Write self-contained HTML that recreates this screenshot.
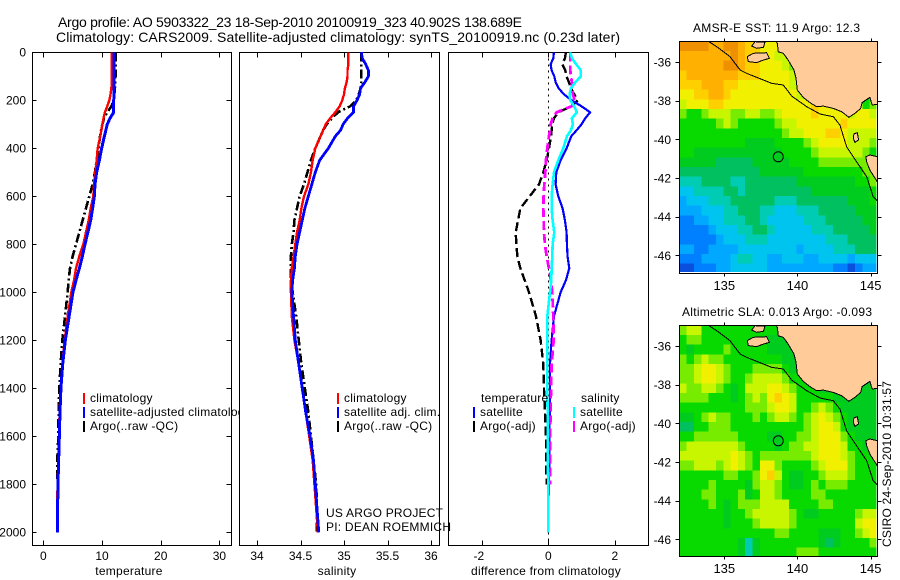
<!DOCTYPE html>
<html>
<head>
<meta charset="utf-8">
<title>Argo profile</title>
<style>
html,body{margin:0;padding:0;background:#fff;}
svg{display:block;}
text{font-family:"Liberation Sans",sans-serif;font-size:12px;fill:#000;}
.title{font-size:14px;}
.crisp{shape-rendering:crispEdges;}
.spaced{letter-spacing:0.25px;}
.maplabel{font-size:13px;}
</style>
</head>
<body>
<svg id="chart" width="900" height="580" viewBox="0 0 900 580" xmlns="http://www.w3.org/2000/svg">
<text class="title" x="58" y="27" textLength="464" lengthAdjust="spacing">Argo profile: AO 5903322_23 18-Sep-2010 20100919_323 40.902S 138.689E</text>
<text class="title" x="56" y="42" textLength="564" lengthAdjust="spacing">Climatology: CARS2009. Satellite-adjusted climatology: synTS_20100919.nc (0.23d later)</text>
<text x="693" y="32" textLength="167" lengthAdjust="spacing">AMSR-E SST: 11.9 Argo: 12.3</text>
<text x="682" y="316" textLength="190" lengthAdjust="spacing">Altimetric SLA: 0.013 Argo: -0.093</text>
<text transform="translate(891,547) rotate(-90)" textLength="166" lengthAdjust="spacing">CSIRO 24-Sep-2010 10:31:57</text>
<text x="326" y="517" textLength="117" lengthAdjust="spacing">US ARGO PROJECT</text>
<text x="326" y="531" textLength="125" lengthAdjust="spacing">PI: DEAN ROEMMICH</text>
</svg>
<script>
// ---------- profile data ----------
const depths = [0,25,50,75,100,125,150,175,200,225,250,275,300,325,350,400,450,500,550,600,650,700,750,800,850,900,950,1000,1100,1200,1300,1400,1500,1600,1700,1800,1900,2000];
const tempClim = [11.65,11.65,11.65,11.65,11.65,11.65,11.6,11.45,11.25,10.9,10.5,10.25,10.06,9.9,9.7,9.26,9.09,8.86,8.64,8.52,8.07,7.73,7.27,6.82,6.14,5.57,5.23,4.77,4.15,3.64,3.24,2.95,2.78,2.67,2.56,2.44,2.33,2.33];
const tempSat = [12.05,12.05,12.05,12.05,12.05,12.05,12.05,12.02,12,12,12,11.36,10.9,10.65,10.4,9.94,9.55,9.09,8.8,8.7,8.4,8.07,7.6,7.1,6.65,6.14,5.57,5.05,4.4,3.75,3.3,3,2.84,2.73,2.61,2.5,2.44,2.39];
const tempArgo = [12.3,12.3,12.3,12.3,12.3,12.25,12.2,12.1,12,11.6,10.9,10.34,10.06,9.85,9.66,9.43,9.09,8.8,8.4,7.84,7.27,6.7,6.14,5.57,5,4.55,4.32,4.15,3.7,3.24,2.95,2.73,2.61,2.56,2.39,2.44,2.44,2.44];
const salClim = [35.05,35.05,35.05,35.04,35.04,35.03,35.01,35,34.98,34.95,34.9,34.84,34.79,34.76,34.73,34.67,34.64,34.62,34.59,34.54,34.51,34.49,34.46,34.44,34.42,34.4,34.39,34.39,34.4,34.43,34.48,34.52,34.56,34.6,34.64,34.66,34.68,34.7];
const salSat = [35.2,35.21,35.25,35.28,35.28,35.24,35.19,35.18,35.15,35.11,35.11,35.04,34.99,34.96,34.9,34.82,34.72,34.67,34.63,34.59,34.55,34.52,34.49,34.46,34.44,34.43,34.41,34.4,34.42,34.44,34.48,34.52,34.56,34.61,34.65,34.67,34.69,34.71];
const salArgo = [35.2,35.2,35.2,35.2,35.2,35.2,35.19,35.17,35.14,35.07,34.93,34.86,34.8,34.76,34.73,34.67,34.62,34.58,34.54,34.49,34.46,34.43,34.42,34.4,34.39,34.39,34.39,34.41,34.45,34.48,34.51,34.55,34.59,34.62,34.65,34.68,34.69,34.69];
const diffTempSat = [0.17,0.15,0.07,0.1,0.18,0.22,0.31,0.47,0.7,1,1.26,1.11,1,0.85,0.69,0.55,0.37,0.24,0.22,0.3,0.43,0.5,0.55,0.56,0.58,0.63,0.53,0.37,0.17,0.1,0.05,0.05,0.05,0.03,0.03,0.02,0,0];
const diffSalSat = [0.66,0.71,0.84,0.98,0.98,0.81,0.68,0.64,0.66,0.78,0.86,0.71,0.74,0.68,0.56,0.45,0.3,0.17,0.13,0.1,0.1,0.13,0.18,0.13,0.12,0.1,0.09,0.05,-0.03,-0.03,-0.03,-0.03,-0.02,-0.02,-0.02,0,0,0];
const diffTempArgo = [0.53,0.5,0.42,0.51,0.55,0.62,0.68,0.78,0.88,0.7,0.3,0.17,0.12,0.1,0.08,0.02,-0.05,-0.15,-0.28,-0.56,-0.84,-0.91,-0.98,-0.96,-0.93,-0.84,-0.71,-0.58,-0.37,-0.23,-0.15,-0.13,-0.1,-0.07,-0.07,-0.05];
const diffSalArgo = [0.66,0.66,0.66,0.66,0.68,0.71,0.71,0.74,0.79,0.7,0.25,0.13,0.07,0.05,0.02,-0.03,-0.07,-0.09,-0.12,-0.14,-0.15,-0.14,-0.13,-0.1,-0.05,0.02,0.08,0.12,0.15,0.16,0.1,0.08,0.07,0.05,0.05,0.05];
const depthTicks = [0,200,400,600,800,1000,1200,1400,1600,1800,2000];
const tempTicks = [0,10,20,30];
const salTicks = [34,34.5,35,35.5,36];
const diffTicks = [-2,0,2];
// ---------- map data ----------
const lonTicks = [135,140,145];
const latTicks = [-36,-38,-40,-42,-44,-46];
const argoLon = 138.689;
const argoLat = -40.902;
const levelColors = ['#0a50dc','#0080ff','#00a8ff','#00c4f0','#00ccb4','#00c060','#00cc20','#08da00','#78ec00','#c8f600','#f0f000','#ffd000','#ffb000','#ee9000'];
const sstGrid = [
[13,13,13,13,12,12,13,13,12,11,11,10,10,10,10,10,10,10,10,10,10,10,10,10,10,10,10],
[12,12,12,12,12,12,12,13,12,11,11,10,10,9,9,8,8,8,8,8,8,8,8,8,8,8,8],
[12,12,12,12,12,12,13,13,12,11,11,10,10,10,9,8,8,8,8,8,8,8,8,8,8,8,8],
[11,12,12,12,12,12,12,12,11,11,11,10,10,10,10,9,8,8,8,8,8,8,8,8,8,8,8],
[11,11,11,12,12,12,11,11,10,10,10,10,10,10,10,9,8,8,8,8,8,8,8,8,8,8,8],
[10,10,11,11,12,12,11,10,10,10,10,10,10,10,10,10,9,9,8,8,8,8,8,8,8,7,8],
[9,10,10,10,11,11,10,10,10,10,10,10,10,10,10,10,10,10,11,10,10,10,10,10,10,7,8],
[8,7,7,8,9,9,9,8,8,9,9,8,8,9,10,10,10,10,11,10,10,10,10,9,10,10,9],
[7,7,7,7,7,8,9,8,7,7,7,7,7,8,9,9,10,10,10,10,10,10,11,10,10,10,10],
[7,7,7,7,7,7,7,7,7,7,7,7,7,7,8,9,9,10,10,10,11,11,10,9,9,9,9],
[7,7,7,7,7,7,7,7,7,6,6,6,6,7,7,7,7,8,9,10,10,10,10,9,9,9,8],
[7,7,6,6,6,6,6,6,6,6,6,6,6,6,7,7,7,7,8,9,9,9,9,9,9,8,7],
[6,6,6,6,6,5,5,5,5,5,6,6,6,6,6,7,7,7,7,8,8,8,8,8,8,8,8],
[5,5,5,5,5,5,5,5,5,5,5,6,6,6,6,6,6,7,7,7,7,7,7,7,7,8,8],
[4,4,4,5,5,5,5,4,4,5,5,5,5,5,5,5,6,6,6,6,6,6,6,6,7,7,8],
[3,3,4,4,4,4,5,5,4,5,5,5,5,5,5,5,5,5,6,6,6,6,6,6,6,6,7],
[2,3,3,3,4,4,4,5,5,5,5,5,5,4,4,4,5,5,5,5,5,5,5,6,6,6,7],
[2,2,2,3,3,3,4,4,5,5,5,4,4,3,3,3,4,4,4,5,5,5,5,5,6,6,6],
[1,1,2,2,3,3,4,4,4,5,5,4,3,3,3,3,3,4,4,4,5,5,5,5,5,6,6],
[1,1,1,1,2,3,3,3,4,4,5,5,4,3,3,3,3,3,4,4,4,5,5,5,5,5,6],
[1,1,1,1,1,2,3,3,3,4,4,4,3,3,3,3,3,3,3,3,4,4,4,5,5,5,5],
[2,2,1,1,2,2,2,2,3,3,3,3,3,3,3,3,2,3,3,3,3,4,4,4,5,5,5],
[1,1,1,2,2,2,2,3,4,4,3,3,2,2,3,3,3,2,2,3,3,3,3,2,3,3,3],
[0,0,1,1,1,2,2,3,3,3,3,3,2,2,2,2,2,2,2,2,2,1,1,0,1,2,2]
];
const slaGrid = [
[8,9,9,7,7,7,7,7,7,7,7,7,7,7,6,6,6,6,6,6,6,6,6,6,6,6,6],
[7,8,8,7,7,7,7,7,7,7,7,7,6,6,6,6,6,6,6,6,6,6,6,6,6,6,6],
[7,6,7,7,7,7,8,7,7,7,7,7,6,6,6,6,6,6,6,6,6,6,6,6,6,6,6],
[8,7,8,9,8,8,7,7,7,7,7,7,7,7,6,6,6,6,6,6,6,6,6,6,6,6,6],
[8,8,9,10,10,9,8,7,7,7,8,8,8,8,7,6,6,6,6,6,6,6,6,6,6,6,6],
[8,8,9,10,10,9,8,7,7,8,9,9,9,9,8,7,7,6,6,6,6,6,6,6,6,6,6],
[9,8,8,9,9,8,7,6,7,9,9,9,10,10,9,8,7,7,7,6,6,6,6,6,6,6,6],
[8,8,8,8,7,7,7,6,7,8,9,8,10,11,10,9,7,7,7,7,7,6,6,6,6,6,6],
[7,7,7,7,7,7,7,7,7,8,8,8,9,10,10,9,7,7,8,9,8,7,6,6,6,6,6],
[6,6,7,8,9,8,8,7,7,7,8,7,8,9,9,8,7,8,9,10,9,8,7,6,6,6,6],
[5,5,7,7,8,8,8,7,7,7,7,7,7,7,7,7,7,8,9,10,10,9,7,6,6,6,6],
[7,7,8,8,8,8,8,8,7,7,7,7,6,6,7,7,8,8,9,10,10,10,8,7,6,6,6],
[8,9,9,9,9,9,9,9,8,7,7,7,7,6,7,8,8,9,9,10,10,10,9,7,7,6,6],
[9,9,9,9,9,9,9,10,9,8,7,8,8,8,8,8,8,8,9,10,10,10,9,8,7,7,7],
[8,8,9,9,9,8,9,10,9,8,7,10,10,8,7,7,7,7,8,9,10,10,10,8,7,7,7],
[7,7,7,7,7,7,8,8,7,7,8,10,11,9,7,6,6,7,7,8,9,9,9,8,7,7,7],
[7,7,7,7,8,7,7,7,7,6,8,9,9,8,7,6,6,7,8,7,8,8,8,7,7,7,7],
[7,7,7,8,8,7,7,7,8,6,7,9,9,8,7,7,7,7,8,8,7,7,7,7,7,7,7],
[7,7,7,7,8,7,6,7,8,8,8,9,9,9,9,7,7,7,7,8,8,7,7,7,7,7,7],
[7,7,7,7,7,7,6,7,7,8,9,9,9,9,9,8,7,6,6,7,7,7,7,7,8,9,9],
[7,7,7,7,7,7,6,7,7,7,8,9,9,9,9,8,7,7,7,7,7,7,7,7,9,10,10],
[7,7,7,7,7,7,7,7,7,7,7,7,7,8,8,7,7,7,7,6,6,6,7,7,8,9,10],
[7,7,7,7,7,7,7,7,6,4,6,7,7,7,7,7,7,7,7,6,5,6,7,7,7,7,8],
[7,7,7,7,7,7,7,7,6,4,6,7,7,7,7,7,8,8,8,7,7,7,7,7,7,7,7]
];
const mainlandCoast = [[138.53,-34.93],[138.62,-35.03],[138.69,-35.47],[139.03,-35.55],[139.37,-35.9],[139.76,-36.41],[139.9,-36.84],[139.99,-37.45],[140.4,-37.83],[140.85,-38.1],[141.31,-38.31],[141.77,-38.28],[142.45,-38.4],[143.02,-38.57],[143.52,-38.86],[143.93,-38.66],[144.32,-38.4],[144.42,-38.1],[144.95,-37.83],[145.11,-38.22],[145.46,-38.2],[145.46,-34.93]];
const tasmaniaCoast = [[144.68,-40.9],[144.95,-40.81],[145.46,-40.9],[145.46,-42.19],[145.23,-41.93],[144.95,-41.59],[144.73,-41.16]];
const kingIsland = [[143.86,-39.72],[144.09,-39.66],[144.18,-40.03],[143.93,-40.16],[143.82,-39.95]];
const kangarooIsland = [[136.57,-35.72],[136.98,-35.55],[137.89,-35.52],[138.08,-35.81],[137.67,-35.9],[137.21,-36.03],[136.64,-35.98]];
const northIsland = [[136.87,-35.17],[137.1,-34.95],[137.78,-34.98],[137.67,-35.24],[137.21,-35.29]];
const shelfContour = [[133.91,-34.93],[134.48,-35.21],[135.39,-35.72],[136.07,-36.41],[136.53,-36.59],[137.67,-36.93],[138.23,-37.1],[139.03,-37.19],[139.6,-37.76],[140.63,-38.31],[141.54,-38.69],[142.45,-38.83],[142.9,-39.26],[143.36,-40.38],[144.04,-41.16],[144.73,-41.93],[145.18,-42.97],[145.46,-43.17]];

// ---------- helpers ----------
const NS = 'http://www.w3.org/2000/svg';
const root = document.getElementById('chart');
function mk(parent, tag, name) {
  const el = document.createElementNS(NS, tag);
  
  
  parent.appendChild(el);
  return el;
}
function line(parent, name, x1, y1, x2, y2, w) {
  const l = mk(parent, 'line', name);
  l.setAttribute('x1', x1); l.setAttribute('y1', y1);
  l.setAttribute('x2', x2); l.setAttribute('y2', y2);
  l.setAttribute('stroke', '#000');
  l.setAttribute('stroke-width', w || 1);
  l.setAttribute('class', 'crisp');
  return l;
}
function label(parent, name, x, y, txt, anchor) {
  const t = mk(parent, 'text', name);
  t.setAttribute('x', x); t.setAttribute('y', y);
  if (anchor) t.setAttribute('text-anchor', anchor);
  t.textContent = txt;
  return t;
}
const yDepth = d => 52.3 + 0.24 * d;
const panelTop = 52.5, panelBottom = 545.5;

function profilePanel(key, left, right, xScale, ticks, tickFmt, xTitle, titleX, showDepth) {
  const g = mk(root, 'g', key + '-panel');
  const frame = mk(g, 'rect', key + '-frame');
  frame.setAttribute('x', left); frame.setAttribute('y', panelTop);
  frame.setAttribute('width', right - left); frame.setAttribute('height', panelBottom - panelTop);
  frame.setAttribute('fill', 'none'); frame.setAttribute('stroke', '#000');
  frame.setAttribute('class', 'crisp');
  ticks.forEach(v => {
    const x = Math.round(xScale(v)) + 0.5;
    line(g, key + '-x-tick-bottom', x, panelBottom, x, panelBottom - 5);
    line(g, key + '-x-tick-top', x, panelTop, x, panelTop + 5);
    label(g, key + '-x-tick-label', xScale(v) - (v < 0 ? 3 : 0), 560, tickFmt(v), 'middle');
  });
  const axisTitle = label(g, key + '-x-axis-title', titleX, 575, xTitle, 'middle');
  axisTitle.setAttribute('class', 'spaced');
  if (showDepth) {
    depthTicks.forEach(d => {
      const y = Math.round(yDepth(d)) + 0.5;
      line(g, 'depth-tick-left', left, y, left + 4, y);
      line(g, 'depth-tick-right', right - 5, y, right, y);
      label(g, 'depth-tick-label', 26, yDepth(d) + 4, d, 'end');
    });
  }
  return g;
}
function series(g, name, values, xScale, color, width, dash) {
  const p = mk(g, 'path', name);
  const pts = values.map((v, i) => (i ? 'L' : 'M') + xScale(v).toFixed(2) + ' ' + yDepth(depths[i]).toFixed(2));
  p.setAttribute('d', pts.join(''));
  p.setAttribute('fill', 'none');
  p.setAttribute('stroke', color);
  p.setAttribute('stroke-width', width);
  if (dash) p.setAttribute('stroke-dasharray', dash);
  p.setAttribute('stroke-linejoin', 'round');
  p.setAttribute('class', 'crisp');
}
function legendRow(g, name, barX, y, color, txt) {
  if (color) {
    const b = mk(g, 'rect', name + '-swatch');
    b.setAttribute('x', barX); b.setAttribute('y', y - 9);
    b.setAttribute('width', 2); b.setAttribute('height', 11);
    b.setAttribute('fill', color);
  }
  const t = label(g, name + '-label', barX + 7, y, txt);
  t.setAttribute('class', 'spaced');
}

// ---------- temperature panel ----------
const xTemp = t => 43.3 + 5.87 * t;
const g1 = profilePanel('temperature', 32.5, 231.5, xTemp, tempTicks, v => v, 'temperature', 129, true);
series(g1, 'temperature-argo-line', tempArgo, xTemp, '#000', 2.6, '9 3 2 3');
series(g1, 'temperature-climatology-line', tempClim, xTemp, '#f00', 2.4);
series(g1, 'temperature-satellite-line', tempSat, xTemp, '#00f', 3);
const lg1 = mk(root, 'svg', 'temperature-legend');
lg1.setAttribute('x', 0); lg1.setAttribute('y', 0);
lg1.setAttribute('width', 240); lg1.setAttribute('height', 580);
legendRow(lg1, 'legend-climatology', 83, 402, '#f00', 'climatology');
legendRow(lg1, 'legend-satellite-adjusted', 83, 416, '#00f', 'satellite-adjusted climatology');
legendRow(lg1, 'legend-argo', 83, 430, '#000', 'Argo(..raw -QC)');

// ---------- salinity panel ----------
const xSal = s => 257 + 87 * (s - 34);
const g2 = profilePanel('salinity', 239.5, 439.5, xSal, salTicks, v => v, 'salinity', 337, false);
series(g2, 'salinity-argo-line', salArgo, xSal, '#000', 2.6, '9 3 2 3');
series(g2, 'salinity-climatology-line', salClim, xSal, '#f00', 2.4);
series(g2, 'salinity-satellite-line', salSat, xSal, '#00f', 2.8);
legendRow(g2, 'legend-sal-climatology', 337, 402, '#f00', 'climatology');
legendRow(g2, 'legend-sal-satellite', 337, 416, '#00f', 'satellite adj. clim.');
legendRow(g2, 'legend-sal-argo', 337, 430, '#000', 'Argo(..raw -QC)');

// ---------- difference panel ----------
const xDiff = v => 548.3 + 33.25 * v;
const g3 = profilePanel('difference', 448.5, 648.5, xDiff, diffTicks, v => String(v), 'difference from climatology', 546, false);
const zero = line(g3, 'zero-reference-line', Math.round(xDiff(0)) + 0.5, panelTop, Math.round(xDiff(0)) + 0.5, panelBottom);
zero.setAttribute('stroke-dasharray', '2 4');
series(g3, 'diff-temperature-argo-line', diffTempArgo, xDiff, '#000', 2.4, '9 4');
series(g3, 'diff-temperature-satellite-line', diffTempSat, xDiff, '#00f', 2.2);
series(g3, 'diff-salinity-argo-line', diffSalArgo, xDiff, '#f0f', 2.8, '9 4');
series(g3, 'diff-salinity-satellite-line', diffSalSat, xDiff, '#0ff', 2.6);
legendRow(g3, 'legend-diff-temperature-heading', 474, 402, null, 'temperature');
legendRow(g3, 'legend-diff-temperature-satellite', 473, 416, '#00f', 'satellite');
legendRow(g3, 'legend-diff-temperature-argo', 473, 430, '#000', 'Argo(-adj)');
legendRow(g3, 'legend-diff-salinity-heading', 574, 402, null, 'salinity');
legendRow(g3, 'legend-diff-salinity-satellite', 573, 416, '#0ff', 'satellite');
legendRow(g3, 'legend-diff-salinity-argo', 573, 430, '#f0f', 'Argo(-adj)');

// ---------- maps ----------
function drawMap(key, grid, top, bottom, yM36) {
  const left = 679.5, right = 877.5;
  const xLon = lon => 724.3 + (lon - 135) * 14.63;
  const yLat = lat => yM36 + (-36 - lat) * 19.33;
  const g = mk(root, 'g', key + '-map');
  const clipId = key + '-clip';
  const clip = mk(g, 'clipPath', key + '-clip-region');
  clip.setAttribute('id', clipId);
  const clipRect = mk(clip, 'rect', key + '-clip-rect');
  clipRect.setAttribute('x', left); clipRect.setAttribute('y', top);
  clipRect.setAttribute('width', right - left); clipRect.setAttribute('height', bottom - top);
  const plot = mk(g, 'g', key + '-plot-area');
  plot.setAttribute('clip-path', 'url(#' + clipId + ')');
  const cells = mk(plot, 'g', key + '-heatmap');
  const lon0 = 131.93, lat0 = -34.93, step = 0.5;
  const lonEnd = 145.37, latEnd = -46.85;
  grid.forEach((row, j) => {
    row.forEach((lev, i) => {
      const c = mk(cells, 'rect', key + '-cell');
      const x1 = xLon(lon0 + i * step), x2 = xLon(Math.min(lon0 + (i + 1) * step, lonEnd));
      const y1 = yLat(lat0 - j * step), y2 = yLat(Math.max(lat0 - (j + 1) * step, latEnd));
      c.setAttribute('x', x1.toFixed(2)); c.setAttribute('y', y1.toFixed(2));
      c.setAttribute('width', Math.max(0, x2 - x1 + 0.4).toFixed(2));
      c.setAttribute('height', Math.max(0, y2 - y1 + 0.4).toFixed(2));
      c.setAttribute('fill', levelColors[lev]);
      c.setAttribute('class', 'crisp');
    });
  });
  const poly = (name, pts) => {
    const p = mk(plot, 'polygon', name);
    p.setAttribute('points', pts.map(q => xLon(q[0]).toFixed(1) + ',' + yLat(q[1]).toFixed(1)).join(' '));
    p.setAttribute('fill', '#ffcc99');
    p.setAttribute('stroke', '#000');
    p.setAttribute('stroke-width', 1);
    p.setAttribute('class', 'crisp');
  };
  poly(key + '-mainland', mainlandCoast);
  poly(key + '-tasmania', tasmaniaCoast);
  poly(key + '-king-island', kingIsland);
  poly(key + '-kangaroo-island', kangarooIsland);
  poly(key + '-north-island', northIsland);
  const contour = mk(plot, 'polyline', key + '-shelf-contour');
  contour.setAttribute('points', shelfContour.map(q => xLon(q[0]).toFixed(1) + ',' + yLat(q[1]).toFixed(1)).join(' '));
  contour.setAttribute('fill', 'none');
  contour.setAttribute('stroke', '#000');
  contour.setAttribute('stroke-width', 1);
  contour.setAttribute('class', 'crisp');
  const marker = mk(plot, 'circle', key + '-argo-location');
  marker.setAttribute('cx', xLon(argoLon).toFixed(1));
  marker.setAttribute('cy', yLat(argoLat).toFixed(1));
  marker.setAttribute('r', 5);
  marker.setAttribute('fill', 'none');
  marker.setAttribute('stroke', '#000');
  const frame = mk(g, 'rect', key + '-frame');
  frame.setAttribute('x', left); frame.setAttribute('y', top);
  frame.setAttribute('width', right - left); frame.setAttribute('height', bottom - top);
  frame.setAttribute('fill', 'none'); frame.setAttribute('stroke', '#000');
  frame.setAttribute('class', 'crisp');
  lonTicks.forEach(lon => {
    const x = Math.round(xLon(lon)) + 0.5;
    line(g, key + '-lon-tick-top', x, top - 3, x, top);
    line(g, key + '-lon-tick-bottom', x, bottom, x, bottom + 3);
    const lonText = label(g, key + '-lon-label', xLon(lon), bottom + 16.5, lon, 'middle');
    lonText.setAttribute('class', 'maplabel');
  });
  latTicks.forEach(lat => {
    const y = Math.round(yLat(lat)) + 0.5;
    line(g, key + '-lat-tick-left', left - 4, y, left, y);
    line(g, key + '-lat-tick-right', right, y, right + 4, y);
    label(g, key + '-lat-label', 671, yLat(lat) + 4.5, String(lat), 'end');
  });
}
drawMap('sst', sstGrid, 41.5, 273.5, 62);
drawMap('sla', slaGrid, 325.5, 556.5, 346);
</script>
</body>
</html>
